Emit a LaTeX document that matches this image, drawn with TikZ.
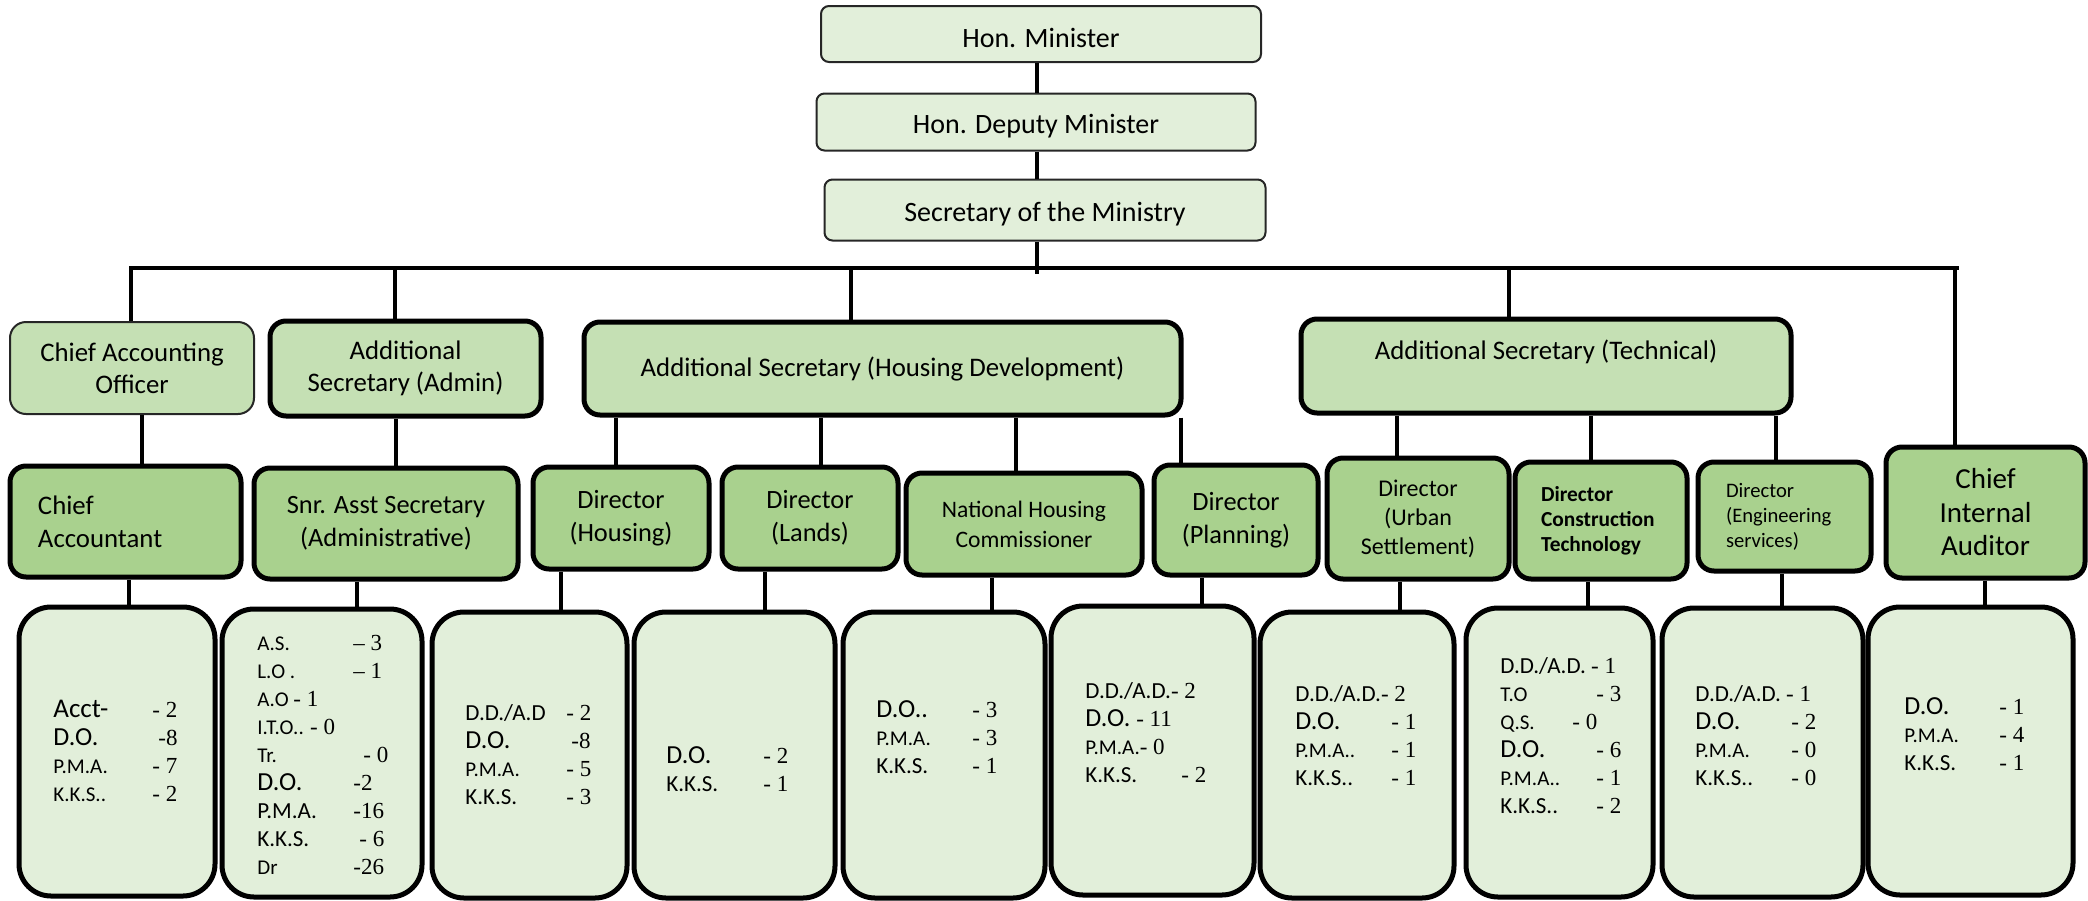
\documentclass[tikz,border=0pt]{standalone}
\usepackage{fontspec}
\setmainfont{Carlito}
\newfontfamily\numfont[Ligatures=TeX]{Liberation Serif}
\definecolor{paleg}{RGB}{226,239,218}
\definecolor{midg}{RGB}{197,224,180}
\definecolor{leafg}{RGB}{169,209,142}
\newcommand{\szL}{\fontsize{13}{14}\selectfont}
\newcommand{\szM}{\fontsize{11.5}{14}\selectfont}
\newcommand{\szS}{\fontsize{10.5}{14}\selectfont}
\newcommand{\nv}[1]{{\numfont\fontsize{11.5}{14}\selectfont #1}}
\tikzset{
  conn/.style={line width=2.3pt},
  topbox/.style={draw=black!85, line width=1pt, rounded corners=4pt, fill=paleg,
    font=\fontsize{14}{17}\selectfont, text height=14pt},
  secbox/.style={draw, line width=2.5pt, rounded corners=8pt, fill=midg, align=center,
    font=\fontsize{13.4}{16}\selectfont},
  dirbox/.style={draw, line width=2.5pt, rounded corners=8pt, fill=leafg, align=center,
    font=\fontsize{13.2}{16.5}\selectfont},
  staffbox/.style={draw, line width=2.5pt, rounded corners=16pt, fill=paleg},
  stafflist/.style={anchor=west, inner sep=0pt, font=\fontsize{10}{14}\selectfont}
}
\begin{document}
\begin{tikzpicture}[x=0.5pt, y=-0.5pt]
    \useasboundingbox (0,0) rectangle (2088,900);

    % ministers and secretary
    \node[topbox, minimum width=220pt, minimum height=28pt] (min) at (1041,34) {Hon. Minister};
    \node[topbox, minimum width=219.5pt, minimum height=28.5pt] (dep) at (1036,122) {Hon. Deputy Minister};
    \node[topbox, minimum width=220.5pt, minimum height=30.5pt] (sec) at (1045,210) {Secretary of the Ministry};

    % additional secretaries
    \node[secbox, draw=black!85, line width=1pt, minimum width=122pt, minimum height=46pt] (cao) at (132,368) {Chief Accounting\\Officer};
    \node[secbox, minimum width=135.5pt, minimum height=47.5pt] (asadm) at (405.5,368.5) {Additional\\Secretary (Admin)};
    \node[secbox, minimum width=298.5pt, minimum height=46.5pt] (ashd) at (882.5,368.5) {Additional Secretary (Housing Development)};
    \node[secbox, minimum width=245pt, minimum height=47pt, text depth=16pt] (astech) at (1546,366) {Additional Secretary (Technical)};

    % directors
    \node[dirbox, minimum width=115.5pt, minimum height=55.5pt, align=left, text width=87.5pt,
      font=\fontsize{13.4}{16.5}\selectfont] (ca) at (125.5,521.5) {Chief\\Accountant};
    \node[dirbox, minimum width=132pt, minimum height=55.5pt] (ssa) at (386,523.5) {Snr. Asst Secretary\\(Administrative)};
    \node[dirbox, minimum width=88pt, minimum height=51pt] (dh) at (621,518) {Director\\(Housing)};
    \node[dirbox, minimum width=88pt, minimum height=51pt] (dl) at (810,518) {Director\\(Lands)};
    \node[dirbox, minimum width=118pt, minimum height=51pt, font=\fontsize{11.8}{15}\selectfont] (nhc) at (1024,524) {National Housing\\Commissioner};
    \node[dirbox, minimum width=82pt, minimum height=55pt] (dp) at (1236,520) {Director\\(Planning)};
    \node[dirbox, minimum width=91pt, minimum height=60.5pt, font=\fontsize{12}{14.5}\selectfont] (dus) at (1418,518.5) {Director\\(Urban\\Settlement)};
    \node[dirbox, minimum width=86pt, minimum height=58.5pt, align=left, text width=60pt,
      font=\bfseries\fontsize{10.7}{12.5}\selectfont] (dct) at (1601,520.5) {Director\\Construction\\Technology};
    \node[dirbox, minimum width=86.5pt, minimum height=54.5pt, align=left, text width=58.5pt,
      font=\fontsize{10.3}{12.5}\selectfont] (des) at (1784.5,516.5) {Director\\(Engineering\\services)};
    \node[dirbox, minimum width=99.5pt, minimum height=65.5pt, font=\fontsize{14.5}{16.75}\selectfont] (cia) at (1985.5,512.5) {Chief\\Internal\\Auditor};

    % staff boxes
    \foreach \n/\x/\y/\w/\h in {b1/117/751.5/98/144.5, b2/322/753/100/144, b3/529.5/755/97.5/143,
        b4/734.5/755/100.5/143, b5/944/755/101/143, b6/1152.5/750.5/101.5/144.5,
        b7/1357/755/97/143, b8/1559.5/752.5/93.5/144.5, b9/1762.5/752.5/100.5/144.5,
        b10/1970.5/751/102.5/144}
    \node[staffbox, minimum width=\w pt, minimum height=\h pt] (\n) at (\x,\y) {};

    % staff numbers
    \node[stafflist] (t1) at (53,754) {\begin{tabular}{@{}p{49.5pt}@{}l@{}}
        \fontsize{13.5}{14}\selectfont Acct- & \nv{- 2}\\
        \szL D.O. & \hspace{3pt}\nv{-8}\\
        \szS P.M.A. & \nv{- 7}\\
        \szS K.K.S.. & \nv{- 2}
      \end{tabular}};
    \node[stafflist] (t2) at (257,757) {\begin{tabular}{@{}p{48pt}@{}l@{}}
        \szS A.S. & \nv{-- 3}\\
        \szS L.O . & \nv{-- 1}\\
        \multicolumn{2}{@{}l@{}}{\szS A.O \nv{- 1}}\\
        \multicolumn{2}{@{}l@{}}{\szS I.T.O.. \nv{- 0}}\\
        \szS Tr. & \hspace{5pt}\nv{- 0}\\
        \szL D.O. & \nv{-2}\\
        \szM P.M.A. & \nv{-16}\\
        \szM K.K.S. & \hspace{3pt}\nv{- 6}\\
        \szS Dr & \nv{-26}
      \end{tabular}};
    \node[stafflist] (t3) at (465,757) {\begin{tabular}{@{}p{50.5pt}@{}l@{}}
        \szM D.D./A.D & \nv{- 2}\\
        \szL D.O. & \hspace{2.5pt}\nv{-8}\\
        \szS P.M.A. & \nv{- 5}\\
        \szM K.K.S. & \nv{- 3}
      \end{tabular}};
    \node[stafflist] (t4) at (666,772) {\begin{tabular}{@{}p{48.5pt}@{}l@{}}
        \szL D.O. & \nv{- 2}\\
        \szM K.K.S. & \nv{- 1}
      \end{tabular}};
    \node[stafflist] (t5) at (876,740) {\begin{tabular}{@{}p{48pt}@{}l@{}}
        \szL D.O.. & \nv{- 3}\\
        \szS P.M.A. & \nv{- 3}\\
        \szM K.K.S. & \nv{- 1}
      \end{tabular}};
    \node[stafflist] (t6) at (1085,735) {\begin{tabular}{@{}p{48pt}@{}l@{}}
        \multicolumn{2}{@{}l@{}}{\szM D.D./A.D.\nv{- 2}}\\
        \multicolumn{2}{@{}l@{}}{\szL D.O. \nv{- 11}}\\
        \multicolumn{2}{@{}l@{}}{\szS P.M.A.\nv{- 0}}\\
        \szM K.K.S. & \nv{- 2}
      \end{tabular}};
    \node[stafflist] (t7) at (1295,738) {\begin{tabular}{@{}p{48pt}@{}l@{}}
        \multicolumn{2}{@{}l@{}}{\szM D.D./A.D.\nv{- 2}}\\
        \szL D.O. & \nv{- 1}\\
        \szS P.M.A.. & \nv{- 1}\\
        \szM K.K.S.. & \nv{- 1}
      \end{tabular}};
    \node[stafflist] (t8) at (1500,738) {\begin{tabular}{@{}p{48pt}@{}l@{}}
        \multicolumn{2}{@{}l@{}}{\szM D.D./A.D. \nv{- 1}}\\
        \szS T.O & \nv{- 3}\\
        \multicolumn{2}{@{}l@{}}{\szS \makebox[36pt][l]{Q.S.}\nv{- 0}}\\
        \szL D.O. & \nv{- 6}\\
        \szS P.M.A.. & \nv{- 1}\\
        \szM K.K.S.. & \nv{- 2}
      \end{tabular}};
    \node[stafflist] (t9) at (1695,738) {\begin{tabular}{@{}p{48pt}@{}l@{}}
        \multicolumn{2}{@{}l@{}}{\szM D.D./A.D. \nv{- 1}}\\
        \szL D.O. & \nv{- 2}\\
        \szS P.M.A. & \nv{- 0}\\
        \szM K.K.S.. & \nv{- 0}
      \end{tabular}};
    \node[stafflist] (t10) at (1904,737) {\begin{tabular}{@{}p{47.5pt}@{}l@{}}
        \szL D.O. & \nv{- 1}\\
        \szS P.M.A. & \nv{- 4}\\
        \szM K.K.S. & \nv{- 1}
      \end{tabular}};

    % spine and main bar
    \coordinate (spine) at (1037,274);
    \coordinate (barL) at (129,268);
    \coordinate (barR) at (1959,268);
    \draw[conn] (min.south -| spine) -- (dep.north -| spine);
    \draw[conn] (dep.south -| spine) -- (sec.north -| spine);
    \draw[conn] (sec.south -| spine) -- (spine);
    \draw[conn] (barL) -- (barR);
    \foreach \n/\x in {cao/131, asadm/395, ashd/851, astech/1509, cia/1955}
        \draw[conn] (barL -| \x,0) -- (\n.north -| \x,0);

    % secretaries to directors
    \foreach \a/\b/\x in {cao/ca/142, asadm/ssa/396, ashd/dh/616, ashd/dl/821, ashd/nhc/1016,
        ashd/dp/1181, astech/dus/1397, astech/dct/1591, astech/des/1776}
        \draw[conn] (\a.south -| \x,0) -- (\b.north -| \x,0);

    % directors to staff boxes
    \foreach \a/\b/\x in {ca/b1/129, ssa/b2/357, dh/b3/561, dl/b4/765, nhc/b5/992, dp/b6/1202,
        dus/b7/1400, dct/b8/1588, des/b9/1782, cia/b10/1985}
        \draw[conn] (\a.south -| \x,0) -- (\b.north -| \x,0);
\end{tikzpicture}
\end{document}
